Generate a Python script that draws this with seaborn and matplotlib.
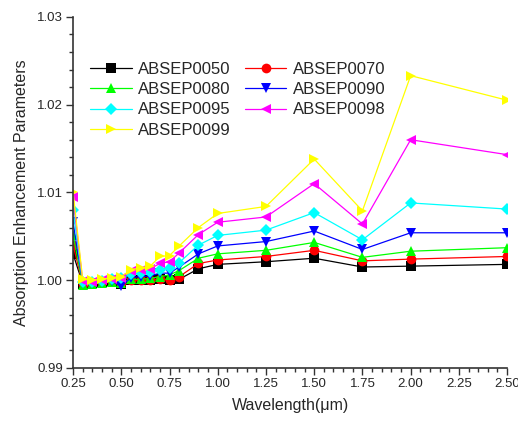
import numpy as np
import pandas as pd
import matplotlib
matplotlib.use("Agg")
import matplotlib.pyplot as plt
from matplotlib.ticker import MultipleLocator, FormatStrFormatter
import seaborn as sns

wavelength = [0.25, 0.30, 0.35, 0.40, 0.45, 0.50, 0.55, 0.60, 0.65, 0.70,
              0.75, 0.80, 0.90, 1.00, 1.25, 1.50, 1.75, 2.00, 2.50]

absep0050 = [1.0030, 0.9996, 0.9997, 0.9998, 0.9999, 0.9996, 1.0000, 1.0000, 1.0000, 1.0001,
             1.0000, 1.0001, 1.0013, 1.0018, 1.0021, 1.0025, 1.0015, 1.0016, 1.0018]
absep0070 = [1.0040, 0.9996, 0.9997, 0.9998, 0.9999, 0.9997, 1.0000, 1.0000, 1.0000, 1.0001,
             1.0000, 1.0004, 1.0019, 1.0023, 1.0027, 1.0034, 1.0022, 1.0024, 1.0027]
absep0080 = [1.0052, 0.9995, 0.9996, 0.9997, 0.9998, 0.9997, 1.0001, 1.0001, 1.0002, 1.0004,
             1.0006, 1.0011, 1.0025, 1.0030, 1.0034, 1.0043, 1.0026, 1.0033, 1.0037]
absep0090 = [1.0066, 0.9997, 0.9997, 0.9998, 0.9999, 0.9993, 1.0003, 1.0004, 1.0005, 1.0008,
             1.0008, 1.0015, 1.0030, 1.0039, 1.0044, 1.0056, 1.0035, 1.0054, 1.0054]
absep0095 = [1.0080, 0.9998, 0.9998, 0.9999, 1.0001, 1.0002, 1.0007, 1.0008, 1.0009, 1.0012,
             1.0014, 1.0020, 1.0040, 1.0051, 1.0057, 1.0077, 1.0046, 1.0088, 1.0081]
absep0098 = [1.0095, 0.9999, 0.9998, 1.0000, 1.0001, 1.0003, 1.0010, 1.0012, 1.0013, 1.0019,
             1.0021, 1.0031, 1.0052, 1.0066, 1.0072, 1.0110, 1.0064, 1.0160, 1.0143]
absep0099 = [1.0101, 1.0001, 1.0000, 1.0001, 1.0003, 1.0004, 1.0012, 1.0014, 1.0016, 1.0027,
             1.0028, 1.0039, 1.0060, 1.0076, 1.0084, 1.0138, 1.0079, 1.0233, 1.0205]

series_names = ["ABSEP0050", "ABSEP0070", "ABSEP0080", "ABSEP0090",
                "ABSEP0095", "ABSEP0098", "ABSEP0099"]
series_values = [absep0050, absep0070, absep0080, absep0090,
                 absep0095, absep0098, absep0099]
colors = ["#000000", "#FF0000", "#00FF00", "#0000FF", "#00FFFF", "#FF00FF", "#FFFF00"]
markers = ["s", "o", "^", "v", "D", "<", ">"]

sns.set_theme(style="ticks")
plt.rcParams["font.family"] = ["Liberation Sans", "DejaVu Sans"]

fig = plt.figure(figsize=(5.18, 4.21), dpi=100)
ax = fig.add_axes([0.141, 0.126, 0.838, 0.834])

for name, vals, col, mk in zip(series_names, series_values, colors, markers):
    df = pd.DataFrame({"Wavelength": wavelength, "Value": vals})
    sns.lineplot(data=df, x="Wavelength", y="Value", ax=ax, color=col,
                 marker=mk, markersize=7 if mk != "D" else 6,
                 markeredgewidth=0, linewidth=0.9, label=name)

# two-column legend filled row by row
h, l = ax.get_legend_handles_labels()
lookup = dict(zip(l, h))
order = ["ABSEP0050", "ABSEP0080", "ABSEP0095", "ABSEP0099",
         "ABSEP0070", "ABSEP0090", "ABSEP0098"]
ax.legend([lookup[k] for k in order], order, ncol=2, frameon=False,
          loc="upper left", bbox_to_anchor=(0.04, 0.872), fontsize=12,
          handlelength=2.5, handletextpad=0.36, columnspacing=0.84,
          labelspacing=0.32, borderaxespad=0.0, borderpad=0.0)

ax.set_xlim(0.25, 2.50)
ax.set_ylim(0.99, 1.03)
ax.xaxis.set_major_locator(MultipleLocator(0.25))
ax.xaxis.set_minor_locator(MultipleLocator(0.05))
ax.yaxis.set_major_locator(MultipleLocator(0.01))
ax.yaxis.set_minor_locator(MultipleLocator(0.002))
ax.xaxis.set_major_formatter(FormatStrFormatter("%.2f"))
ax.yaxis.set_major_formatter(FormatStrFormatter("%.2f"))
ax.tick_params(which="major", direction="out", length=5, width=1, labelsize=9.5,
               color="#333333", pad=2)
ax.tick_params(which="minor", direction="out", length=3, width=1, color="#333333")
for s in ["top", "right"]:
    ax.spines[s].set_visible(False)
for s in ["left", "bottom"]:
    ax.spines[s].set_linewidth(1.2)
    ax.spines[s].set_color("#333333")

ax.set_xlabel("Wavelength(\u03bcm)", fontsize=11.5, labelpad=6)
ax.set_ylabel("Absorption Enhancement Parameters", fontsize=11.5, labelpad=6)

fig.savefig("out.png", dpi=100)
